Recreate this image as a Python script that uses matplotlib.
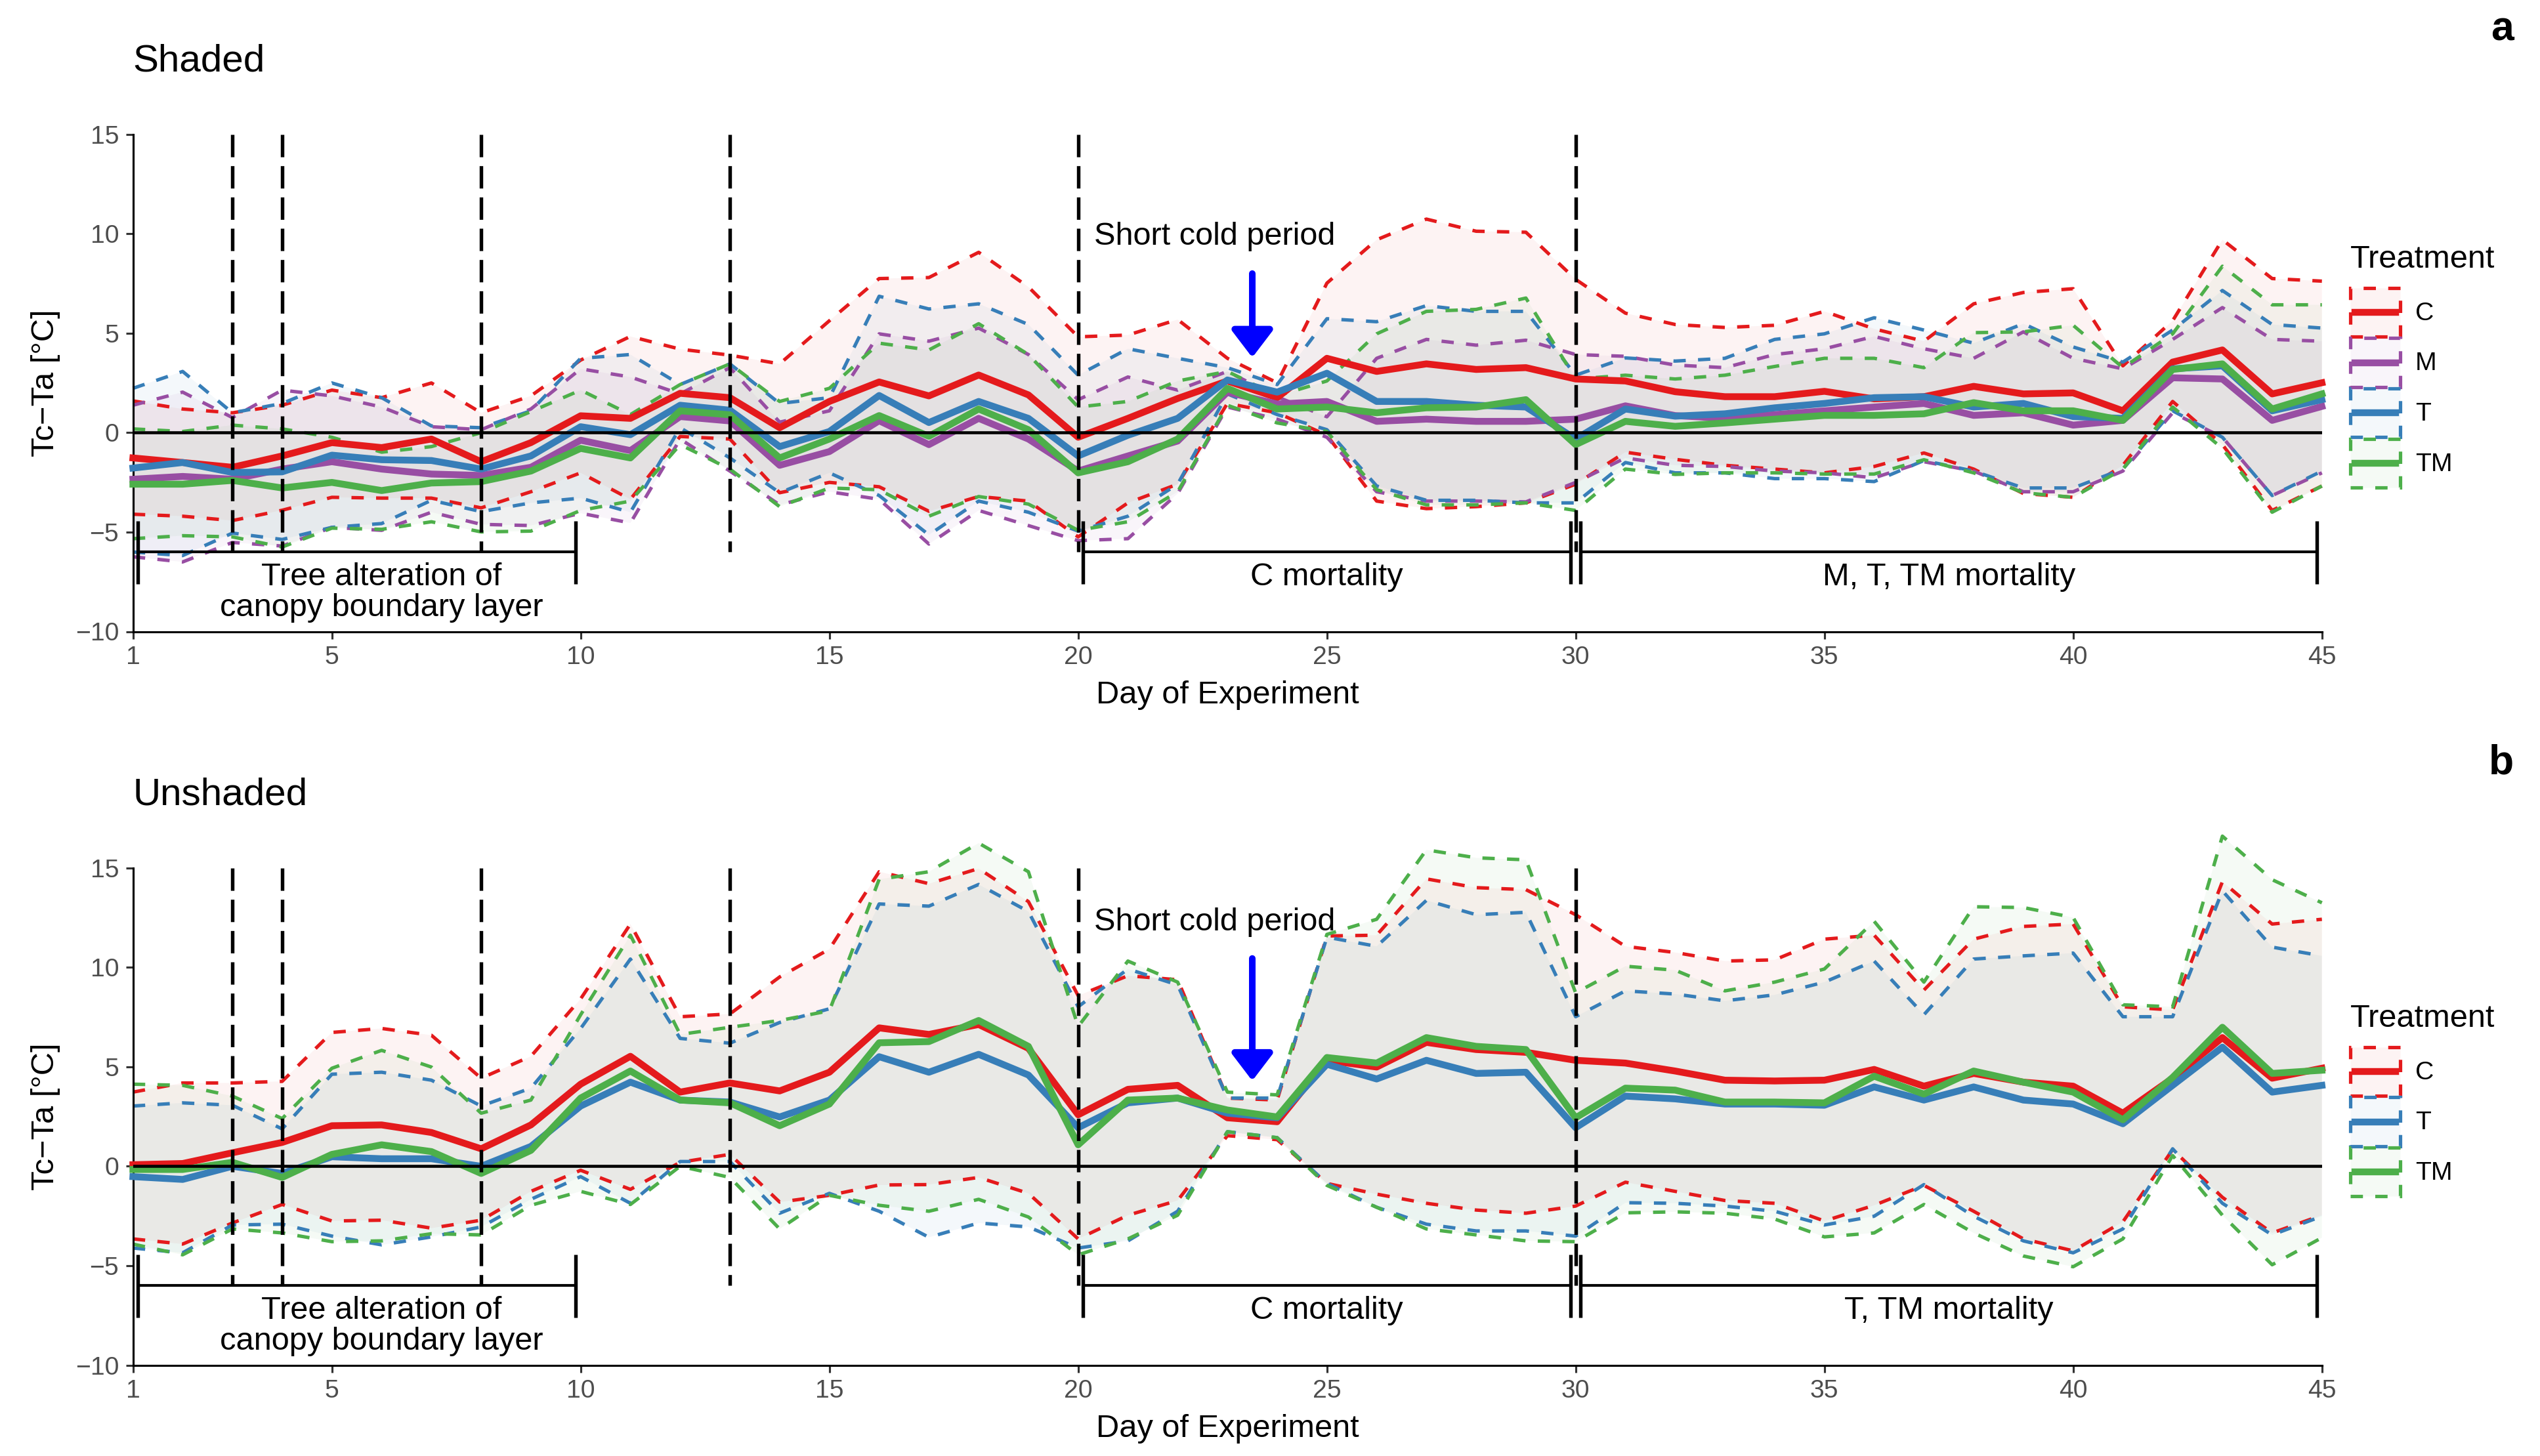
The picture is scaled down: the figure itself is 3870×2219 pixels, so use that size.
import numpy as np
import matplotlib
matplotlib.use("Agg")
import matplotlib.pyplot as plt
from matplotlib.patches import Patch
from matplotlib.lines import Line2D
from matplotlib.legend_handler import HandlerTuple, HandlerLine2D
from matplotlib.colors import to_rgba

plt.rcParams['font.family'] = ['Liberation Sans', 'DejaVu Sans']

# ---------------- data ----------------
days = np.arange(1, 46)
treat_order = ["C", "M", "T", "TM"]
colors = {"C": "#E41A1C", "M": "#984EA3", "T": "#377EB8", "TM": "#4DAF4A"}

# Panel a: Shaded
a_C_mean = [-1.27, -1.5, -1.74, -1.17, -0.5, -0.75, -0.32, -1.46, -0.5, 0.85, 0.72, 1.98, 1.76, 0.25, 1.57,
            2.55, 1.85, 2.9, 1.9, -0.23, 0.72, 1.72, 2.6, 1.76, 3.74, 3.08, 3.46, 3.18, 3.27, 2.7,
            2.6, 2.06, 1.81, 1.81, 2.08, 1.7, 1.81, 2.33, 1.95, 2.0, 1.1, 3.55, 4.16, 1.95, 2.51]
a_M_mean = [-2.34, -2.2, -2.34, -1.83, -1.46, -1.83, -2.08, -2.15, -1.74, -0.38, -0.9, 0.81, 0.59, -1.64, -0.95,
            0.6, -0.6, 0.72, -0.32, -1.93, -1.17, -0.42, 2.04, 1.44, 1.57, 0.57, 0.68, 0.57, 0.57, 0.68,
            1.35, 0.86, 0.72, 0.91, 1.1, 1.29, 1.47, 0.87, 1.0, 0.38, 0.62, 2.76, 2.7, 0.62, 1.32]
a_T_mean = [-1.78, -1.5, -2.0, -1.97, -1.13, -1.36, -1.4, -1.83, -1.17, 0.3, -0.1, 1.38, 1.13, -0.7, 0.06,
            1.87, 0.51, 1.57, 0.72, -1.17, -0.13, 0.72, 2.65, 2.04, 2.99, 1.57, 1.57, 1.38, 1.29, -0.32,
            1.19, 0.83, 0.95, 1.25, 1.47, 1.76, 1.81, 1.29, 1.47, 0.81, 0.72, 3.21, 3.36, 1.1, 1.66]
a_TM_mean = [-2.59, -2.59, -2.4, -2.78, -2.5, -2.91, -2.53, -2.46, -1.93, -0.79, -1.27, 1.1, 0.9, -1.27, -0.32,
             0.86, -0.18, 1.19, 0.15, -2.02, -1.46, -0.32, 2.23, 1.19, 1.29, 1.0, 1.25, 1.29, 1.66, -0.6,
             0.57, 0.32, 0.49, 0.68, 0.87, 0.87, 0.95, 1.51, 1.1, 1.1, 0.62, 3.18, 3.46, 1.19, 1.95]

a_C_upper = [1.6, 1.19, 1.0, 1.38, 2.14, 1.76, 2.5, 1.0, 1.85, 3.65, 4.84, 4.2, 3.9, 3.46, 5.63,
             7.75, 7.8, 9.07, 7.33, 4.82, 4.91, 5.69, 3.74, 2.51, 7.52, 9.7, 10.74, 10.13, 10.08, 7.71,
             6.01, 5.44, 5.29, 5.4, 6.1, 5.22, 4.6, 6.48, 7.05, 7.24, 3.36, 5.63, 9.7, 7.75, 7.62]
a_C_lower = [-4.1, -4.2, -4.42, -3.9, -3.25, -3.29, -3.29, -3.78, -2.97, -2.02, -3.35, -0.19, -0.32, -3.02, -2.5,
             -2.72, -3.95, -3.21, -3.44, -5.24, -3.53, -2.59, 1.47, 1.0, -0.13, -3.44, -3.82, -3.72, -3.53, -2.59,
             -0.98, -1.34, -1.64, -1.83, -2.02, -1.7, -1.02, -1.83, -3.06, -3.25, -1.64, 1.57, -0.6, -3.91, -2.68]
a_M_upper = [1.38, 2.04, 0.76, 2.14, 1.85, 1.29, 0.3, 0.15, 1.19, 3.21, 2.8, 1.95, 3.27, 0.53, 1.1,
             4.97, 4.6, 5.26, 3.93, 1.66, 2.8, 2.14, 3.08, 1.8, 0.8, 3.74, 4.69, 4.4, 4.65, 3.93,
             3.84, 3.4, 3.27, 3.93, 4.22, 4.84, 4.22, 3.74, 5.07, 3.74, 3.21, 4.69, 6.29, 4.69, 4.6]
a_M_lower = [-6.24, -6.5, -5.52, -5.7, -4.76, -4.91, -4.0, -4.61, -4.67, -4.05, -4.54, -0.32, -1.93, -3.63, -2.97,
             -3.35, -5.6, -3.91, -4.67, -5.43, -5.33, -3.06, 1.29, 0.68, -0.23, -2.97, -3.44, -3.44, -3.48, -2.5,
             -1.27, -1.64, -1.7, -1.93, -2.02, -2.27, -1.46, -1.93, -2.97, -2.97, -1.93, 1.0, -0.23, -3.16, -2.02]
a_T_upper = [2.23, 3.08, 1.0, 1.47, 2.5, 1.76, 0.34, 0.25, 1.1, 3.74, 3.93, 2.42, 3.46, 1.47, 1.76,
             6.86, 6.22, 6.48, 5.44, 2.89, 4.22, 3.74, 3.27, 2.42, 5.73, 5.58, 6.39, 6.1, 6.1, 2.89,
             3.76, 3.6, 3.74, 4.69, 4.97, 5.78, 5.16, 4.5, 5.48, 4.31, 3.55, 5.16, 7.15, 5.44, 5.26]
a_T_lower = [-6.0, -6.18, -5.05, -5.37, -4.76, -4.57, -3.4, -3.97, -3.53, -3.29, -4.0, 0.25, -1.27, -3.02, -2.02,
             -3.16, -5.14, -3.44, -4.0, -4.95, -4.2, -2.59, 1.95, 0.91, 0.15, -2.68, -3.4, -3.4, -3.53, -3.53,
             -1.5, -2.02, -2.02, -2.31, -2.31, -2.46, -1.4, -1.93, -2.78, -2.78, -1.83, 1.1, -0.23, -3.16, -1.93]
a_TM_upper = [0.19, 0.06, 0.38, 0.19, -0.23, -0.98, -0.7, 0.0, 1.06, 2.14, 0.91, 2.42, 3.46, 1.57, 2.23,
              4.5, 4.16, 5.48, 3.93, 1.29, 1.57, 2.6, 3.08, 1.85, 2.6, 4.97, 6.1, 6.2, 6.77, 2.7,
              2.89, 2.7, 2.89, 3.33, 3.74, 3.74, 3.27, 5.03, 5.07, 5.4, 3.27, 4.97, 8.37, 6.43, 6.43]
a_TM_lower = [-5.33, -5.18, -5.24, -5.75, -4.8, -4.86, -4.48, -4.99, -4.95, -3.91, -3.44, -0.6, -1.83, -3.72, -2.78,
              -2.87, -4.2, -3.21, -3.59, -4.91, -4.48, -2.97, 1.38, 0.49, 0.06, -2.87, -3.63, -3.63, -3.53, -3.91,
              -1.83, -2.1, -2.02, -2.02, -2.08, -2.08, -1.36, -2.02, -3.02, -3.25, -1.83, 1.29, -0.79, -4.0, -2.68]

# Panel b: Unshaded
b_C_mean = [0.08, 0.14, 0.68, 1.2, 2.04, 2.08, 1.7, 0.88, 2.08, 4.13, 5.53, 3.73, 4.19, 3.79, 4.73,
            6.96, 6.63, 7.13, 5.93, 2.59, 3.87, 4.07, 2.44, 2.24, 5.33, 4.99, 6.23, 5.87, 5.73, 5.33,
            5.19, 4.79, 4.33, 4.29, 4.33, 4.87, 4.03, 4.67, 4.23, 4.03, 2.67, 4.43, 6.47, 4.43, 4.93]
b_T_mean = [-0.52, -0.66, 0.0, -0.36, 0.48, 0.38, 0.38, 0.0, 1.0, 3.03, 4.23, 3.33, 3.23, 2.48, 3.33,
            5.51, 4.73, 5.63, 4.59, 1.94, 3.19, 3.43, 2.67, 2.44, 5.13, 4.39, 5.33, 4.67, 4.73, 1.94,
            3.53, 3.39, 3.13, 3.13, 3.07, 3.99, 3.33, 3.99, 3.33, 3.13, 2.14, 4.07, 5.99, 3.73, 4.07]
b_TM_mean = [-0.16, -0.16, 0.2, -0.56, 0.6, 1.08, 0.74, -0.36, 0.8, 3.43, 4.79, 3.33, 3.19, 2.04, 3.13,
             6.21, 6.27, 7.33, 6.03, 1.08, 3.33, 3.43, 2.83, 2.48, 5.47, 5.19, 6.47, 6.03, 5.87, 2.44,
             3.93, 3.83, 3.23, 3.23, 3.19, 4.53, 3.63, 4.79, 4.23, 3.73, 2.34, 4.47, 6.99, 4.67, 4.83]

b_C_upper = [3.73, 4.19, 4.19, 4.27, 6.73, 6.93, 6.59, 4.43, 5.53, 8.42, 12.18, 7.52, 7.66, 9.52, 10.92,
             14.81, 14.21, 14.97, 13.31, 8.58, 9.58, 9.38, 3.43, 3.33, 11.58, 11.62, 14.45, 14.01, 13.91, 12.65,
             11.06, 10.75, 10.32, 10.38, 11.42, 11.62, 8.86, 11.42, 12.06, 12.18, 8.02, 7.86, 14.31, 12.18, 12.42]
b_C_lower = [-3.65, -3.91, -2.85, -1.92, -2.75, -2.71, -3.11, -2.71, -1.26, -0.2, -1.16, 0.2, 0.6, -1.8, -1.46,
             -0.94, -0.92, -0.56, -1.36, -3.65, -2.46, -1.72, 1.54, 1.34, -0.86, -1.4, -1.86, -2.2, -2.36, -2.0,
             -0.8, -1.26, -1.72, -1.86, -2.75, -1.96, -0.96, -2.26, -3.65, -4.25, -2.79, 0.84, -1.56, -3.35, -2.46]
b_T_upper = [3.03, 3.19, 3.07, 1.88, 4.63, 4.73, 4.33, 3.03, 3.93, 6.93, 10.42, 6.43, 6.19, 7.23, 7.92,
             13.19, 13.08, 14.17, 12.81, 8.02, 9.92, 9.12, 3.43, 3.43, 11.52, 11.06, 13.37, 12.65, 12.77, 7.52,
             8.82, 8.66, 8.32, 8.62, 9.26, 10.32, 7.62, 10.42, 10.58, 10.72, 7.52, 7.52, 13.85, 11.02, 10.58]
b_T_lower = [-4.11, -4.35, -2.95, -2.91, -3.51, -3.95, -3.55, -3.05, -1.66, -0.52, -1.86, 0.24, 0.24, -2.36, -1.36,
             -2.26, -3.57, -2.85, -3.05, -4.11, -3.75, -2.26, 1.74, 1.44, -0.86, -2.06, -2.91, -3.25, -3.25, -3.51,
             -1.83, -1.86, -2.0, -2.26, -2.95, -2.51, -0.92, -2.51, -3.75, -4.35, -3.15, 0.88, -1.86, -3.45, -2.51]
b_TM_upper = [4.13, 4.07, 3.53, 2.4, 4.93, 5.83, 4.99, 2.67, 3.33, 7.62, 11.62, 6.63, 6.99, 7.33, 7.82,
              14.43, 14.81, 16.25, 14.81, 7.03, 10.32, 9.26, 3.73, 3.59, 11.66, 12.42, 15.91, 15.51, 15.41, 8.72,
              10.06, 9.86, 8.82, 9.26, 9.92, 12.32, 9.26, 13.05, 13.01, 12.51, 8.12, 8.02, 16.6, 14.41, 13.25]
b_TM_lower = [-3.91, -4.45, -3.15, -3.35, -3.79, -3.75, -3.39, -3.45, -1.96, -1.26, -1.92, 0.0, -0.56, -3.15, -1.46,
              -1.96, -2.26, -1.66, -2.55, -4.45, -3.65, -2.46, 1.74, 1.44, -0.96, -2.06, -3.15, -3.45, -3.75, -3.79,
              -2.34, -2.29, -2.36, -2.65, -3.55, -3.35, -1.92, -3.35, -4.51, -5.05, -3.65, 0.54, -2.46, -4.95, -3.59]

# event markers / annotations
event_days = [3, 4, 8, 13, 20, 30]
bracket_start = [1.1, 20.1, 30.1]
bracket_end = [9.9, 29.9, 44.9]
bracket_text_x = [6.0, 25.0, 37.5]
bracket_labels_a = [["Tree alteration of", "canopy boundary layer"], ["C mortality"], ["M, T, TM mortality"]]
bracket_labels_b = [["Tree alteration of", "canopy boundary layer"], ["C mortality"], ["T, TM mortality"]]
x_ticks = [1, 5, 10, 15, 20, 25, 30, 35, 40, 45]
y_ticks = [-10, -5, 0, 5, 10, 15]

panel_a = {
    "C": (a_C_mean, a_C_lower, a_C_upper),
    "M": (a_M_mean, a_M_lower, a_M_upper),
    "T": (a_T_mean, a_T_lower, a_T_upper),
    "TM": (a_TM_mean, a_TM_lower, a_TM_upper),
}
panel_b = {
    "C": (b_C_mean, b_C_lower, b_C_upper),
    "T": (b_T_mean, b_T_lower, b_T_upper),
    "TM": (b_TM_mean, b_TM_lower, b_TM_upper),
}

# ---------------- figure ----------------
W, H = 3870, 2219
fig = plt.figure(figsize=(W / 300, H / 300), dpi=300)

def fx(px):
    return px / W

def fy(py):
    return 1 - py / H

ax_left = fx(202.5)
ax_w = fx(3537.7) - fx(202.5)
ax_a = fig.add_axes([ax_left, fy(962.5), ax_w, (962.5 - 204.8) / H])
ax_b = fig.add_axes([ax_left, fy(2080.6), ax_w, (2080.6 - 1322.8) / H])

DASH = (0, (3.6, 3.6))
LW_DASH = 1.25
LW_MEAN = 2.5
FS_TICK = 9.4
FS_AXIS = 11.7


class CenteredLineHandler(HandlerLine2D):
    """Legend line drawn through the vertical centre of the key box."""
    def create_artists(self, legend, orig_handle, xdescent, ydescent, width, height, fontsize, trans):
        artists = super().create_artists(legend, orig_handle, xdescent, ydescent,
                                         width, height, fontsize, trans)
        yc = height / 2 - ydescent
        for a in artists:
            if isinstance(a, Line2D):
                a.set_ydata(np.full(len(a.get_xdata()), yc))
        return artists


def draw_panel(ax, data, title, cold_text_y, arrow_from, arrow_to, labels, legend_top_px):
    for tr in treat_order:
        if tr not in data:
            continue
        mean, lo, up = data[tr]
        col = colors[tr]
        ax.fill_between(days, lo, up, facecolor=to_rgba(col, 0.05), edgecolor='none',
                        zorder=1, clip_on=False)
        ax.plot(days, up, color=col, lw=LW_DASH, linestyle=DASH, zorder=2, clip_on=False)
        ax.plot(days, lo, color=col, lw=LW_DASH, linestyle=DASH, zorder=2, clip_on=False)
    for tr in treat_order:
        if tr not in data:
            continue
        mean = data[tr][0]
        ax.plot(days, mean, color=colors[tr], lw=LW_MEAN, solid_joinstyle='round',
                zorder=3, clip_on=False)

    ax.axhline(0, color='black', lw=1.1, zorder=4)
    for d in event_days:
        ax.plot([d, d], [15, -6], color='black', lw=1.3, linestyle=(0, (6.3, 2.5)), zorder=4)

    ax.hlines([-6] * len(bracket_start), bracket_start, bracket_end, color='black', lw=1.0, zorder=4)
    ax.vlines(bracket_start, -4.45, -7.6, color='black', lw=1.3, zorder=4)
    ax.vlines(bracket_end, -4.45, -7.6, color='black', lw=1.3, zorder=4)
    for x, lines in zip(bracket_text_x, labels):
        for i, s in enumerate(lines):
            ax.text(x, -7.66 - 1.56 * i, s, ha='center', va='baseline', fontsize=FS_AXIS, zorder=5)

    ax.text(22.75, cold_text_y, "Short cold period", ha='center', va='baseline',
            fontsize=FS_AXIS, zorder=5)
    ax.annotate('', xy=(23.5, arrow_to), xytext=(23.5, arrow_from),
                arrowprops=dict(arrowstyle='-|>,head_length=0.42,head_width=0.32',
                                color='#0000FF', lw=2.4, mutation_scale=20,
                                shrinkA=0, shrinkB=0, joinstyle='round'),
                zorder=5)

    ax.set_xlim(1, 45)
    ax.set_ylim(-10, 15)
    ax.set_xticks(x_ticks)
    ax.set_yticks(y_ticks)
    for s in ['top', 'right']:
        ax.spines[s].set_visible(False)
    for s in ['left', 'bottom']:
        ax.spines[s].set_linewidth(0.75)
        ax.spines[s].set_color('black')
    ax.tick_params(direction='out', length=2.75, width=0.75, color='#333333',
                   labelcolor='#4D4D4D', labelsize=FS_TICK, pad=2.4)
    ax.set_xlabel("Day of Experiment", fontsize=FS_AXIS)
    ax.xaxis.set_label_coords(0.5, -0.1441)
    ax.xaxis.label.set_verticalalignment('baseline')
    ax.set_ylabel("Tc\u2212Ta [\u00b0C]", fontsize=FS_AXIS)
    ax.yaxis.set_label_coords(-0.0399, 0.5)
    ax.yaxis.label.set_verticalalignment('center')
    ax.set_title(title, loc='left', fontsize=14, pad=23.2)

    handles = []
    names = []
    for tr in treat_order:
        if tr not in data:
            continue
        col = colors[tr]
        p = Patch(facecolor=to_rgba(col, 0.05), edgecolor=col, linestyle=DASH, linewidth=LW_DASH)
        l = Line2D([], [], color=col, lw=LW_MEAN)
        handles.append((p, l))
        names.append(tr)
    leg = ax.legend(handles, names, title="Treatment", loc='upper left',
                    bbox_to_anchor=(fx(3581), fy(legend_top_px)), bbox_transform=fig.transFigure,
                    frameon=False, fontsize=9.4, title_fontsize=11.7,
                    handlelength=1.93, handleheight=2.54, labelspacing=0.06,
                    handletextpad=0.6, borderpad=0, borderaxespad=0, alignment='left',
                    handler_map={tuple: HandlerTuple(ndivide=1),
                                 Line2D: CenteredLineHandler(numpoints=2, marker_pad=0.18)})
    # extra gap between legend title and keys (as in the reference)
    leg._legend_box.sep = 5.0


draw_panel(ax_a, panel_a, "Shaded", 9.44, 8.0, 3.78, bracket_labels_a, 373)
draw_panel(ax_b, panel_b, "Unshaded", 11.86, 10.45, 4.3, bracket_labels_b, 1530)

fig.text(fx(3830), fy(62), "a", ha='right', va='baseline', fontsize=15, fontweight='bold')
fig.text(fx(3830), fy(1180), "b", ha='right', va='baseline', fontsize=15, fontweight='bold')

fig.savefig("out.png", dpi=300)
